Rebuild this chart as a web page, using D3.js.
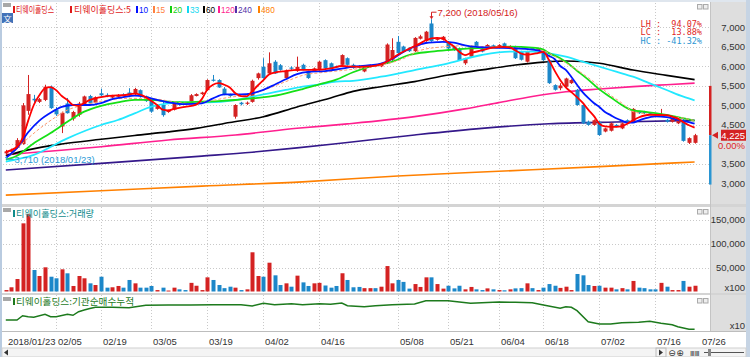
<!DOCTYPE html>
<html><head><meta charset="utf-8">
<script src="https://cdn.jsdelivr.net/npm/d3@7"></script>
<style>body{margin:0;background:#fff}svg{display:block}</style>
</head><body><svg id="c" width="750" height="357"></svg>
<script>
// ---------------- DATA ----------------
const openP  = [3760,3800,3900,4000,4850,5160,5080,5130,5470,4880,4450,5040,4650,4750,5000,5230,5060,5300,5260,5190,5210,5270,5320,5280,5380,5220,5130,4900,5000,4820,4880,5060,5060,5090,5230,5280,5380,5650,5640,5420,5260,4700,5060,5030,5080,5690,5980,5810,6110,6020,5690,5960,5870,6030,5860,5870,5900,6150,6070,5990,6030,6200,6030,5990,5860,5980,6020,5990,6070,6160,6620,6500,6450,6380,6700,6640,7090,6670,6670,6620,6500,6450,6070,6240,6620,6450,6480,6530,6520,6580,6480,6500,6370,6110,6460,6410,6370,6150,5510,5430,5470,5560,5390,5000,4570,4490,4570,4320,4340,4490,4400,4610,4580,4830,4830,4790,4760,4720,4620,4570,4530,4620,4030,4030];
const highP  = [3850,3880,4150,5050,5770,5260,5180,5520,5500,4950,4830,5180,4850,5080,5240,5260,5220,5420,5300,5260,5280,5300,5430,5440,5400,5240,5150,5020,5080,4880,5060,5090,5080,5280,5300,5340,5660,5770,5660,5460,5290,5020,5080,5090,5650,5830,6200,6350,6150,6050,5910,5990,6240,6060,5880,5960,6130,6170,6090,6010,6300,6220,6060,6020,6000,6040,6040,6080,6580,6710,6770,6520,6480,6740,6800,6900,7200,6730,6770,6640,6520,6470,6210,6520,6640,6470,6560,6550,6560,6600,6530,6520,6390,6390,6480,6470,6390,6170,5530,5560,5700,5660,5410,5020,4600,4630,4590,4420,4550,4510,4550,4630,4920,4850,4850,4810,4790,4900,4640,4670,4640,4650,4170,4260];
const lowP   = [3710,3770,3880,3980,4750,5060,5050,5100,4900,4720,4280,4780,4600,4700,4980,5000,5040,5230,5200,5170,5180,5220,5200,5250,5190,5080,4800,4880,4700,4800,4860,4980,5000,5080,5220,5260,5360,5600,5440,5250,5200,4650,4990,5000,5060,5650,5680,5790,5800,5880,5670,5900,5850,5890,5670,5850,5880,5920,5920,5950,6000,6010,5930,5940,5840,5960,5970,5970,6050,6130,6300,6350,6360,6360,6680,6620,6620,6650,6650,6430,6390,6130,6030,6220,6480,6350,6460,6470,6500,6480,6460,6180,6140,6090,6420,6390,6130,5540,5370,5380,5450,5540,4980,4510,4470,4470,4210,4300,4320,4430,4380,4510,4560,4770,4770,4760,4720,4700,4550,4550,4510,4060,4000,4010];
const closeP = [3810,3840,4100,4990,5280,5120,5150,5470,4920,4760,4800,4790,4820,5040,5220,5040,5200,5250,5230,5230,5260,5240,5240,5410,5220,5100,4830,4980,4740,4850,5040,5010,5040,5250,5280,5320,5640,5620,5450,5260,5230,5000,5020,5060,5620,5810,5690,6070,5810,5900,5890,5930,5980,5900,5690,5940,6110,5940,5940,5960,6280,6030,5950,5960,5980,6020,5990,6070,6550,6410,6330,6370,6380,6720,6760,6880,6640,6710,6750,6450,6410,6150,6200,6500,6500,6370,6540,6490,6540,6500,6510,6200,6160,6370,6440,6450,6150,5560,5390,5500,5680,5640,5000,4530,4490,4610,4230,4400,4530,4450,4530,4530,4900,4790,4790,4780,4740,4770,4570,4650,4620,4080,4150,4225];
const volume = [3000,8800,26000,142000,161000,44800,32300,50400,30800,27500,46200,37900,11500,32300,27500,17000,13500,30800,8000,8800,11500,8000,24000,17000,8000,8000,11500,3000,8000,2000,8000,4500,3000,18000,12000,3000,29500,24000,13500,7000,10000,8000,3000,4500,81700,32300,30800,60000,33700,13500,17000,10000,33000,19000,11500,17000,18000,12500,8000,11500,38000,24000,8800,9500,7000,7000,7000,10000,53000,17000,24000,20000,6000,15500,9500,29500,29500,15500,6000,12000,6500,12000,4500,9500,4500,3000,6500,4500,3000,2500,4500,6500,7000,17000,7000,3000,8000,15500,12000,7500,10000,3000,36500,33700,13500,11500,12000,8000,8000,4500,7000,4500,22000,8000,7000,4500,4500,18000,10000,3000,3000,22000,10000,12000];

// moving averages: [day index, price]
const ma5 = [[0,3800],[2,3930],[3,4150],[4,4600],[5,5000],[6,5250],[7,5430],[8,5460],[9,5380],[10,5230],[11,5130],[12,5000],[13,4980],[14,5050],[15,5130],[16,5170],[17,5200],[19,5240],[21,5250],[23,5290],[25,5200],[26,5100],[27,5000],[28,4880],[29,4860],[30,4900],[32,4950],[34,5010],[35,5150],[36,5400],[37,5520],[38,5560],[39,5520],[40,5450],[41,5300],[42,5230],[43,5220],[44,5350],[45,5500],[46,5640],[47,5780],[48,5830],[50,5870],[52,5900],[55,5900],[58,5940],[60,6000],[61,5990],[63,5980],[65,5990],[67,6040],[68,6110],[70,6290],[72,6440],[74,6580],[75,6660],[77,6720],[78,6710],[79,6600],[80,6500],[81,6360],[82,6280],[83,6330],[85,6400],[87,6470],[89,6490],[90,6480],[91,6400],[92,6320],[93,6290],[95,6330],[96,6360],[97,6150],[98,5880],[99,5640],[100,5450],[101,5330],[102,5200],[103,5060],[104,4880],[105,4720],[106,4520],[107,4450],[108,4440],[109,4440],[110,4460],[111,4520],[112,4610],[113,4680],[115,4750],[118,4740],[119,4700],[120,4650],[121,4560],[122,4480],[123,4420]];
const ma10 = [[0,3640],[2,3900],[4,4300],[6,4600],[8,4800],[10,4950],[12,5000],[15,5000],[17,5050],[19,5150],[21,5200],[23,5240],[25,5210],[27,5130],[29,5070],[32,5020],[35,5040],[37,5170],[39,5270],[42,5270],[44,5300],[46,5390],[48,5520],[50,5660],[52,5790],[54,5850],[57,5870],[59,5910],[61,5960],[65,6020],[67,6060],[69,6180],[71,6360],[73,6500],[75,6590],[77,6610],[78,6620],[80,6600],[82,6530],[84,6490],[87,6470],[91,6450],[95,6400],[96,6340],[97,6260],[98,6180],[99,6000],[100,5900],[101,5720],[102,5520],[103,5330],[104,5180],[105,5050],[106,4950],[107,4820],[108,4740],[109,4660],[110,4600],[111,4550],[112,4550],[113,4600],[114,4650],[116,4710],[118,4690],[120,4620],[122,4560],[123,4520]];
const ma15 = [[1,3720],[4,4150],[7,4500],[9,4700],[11,4870],[14,5000],[18,5120],[21,5170],[24,5170],[27,5150],[30,5080],[33,5040],[37,5120],[40,5200],[43,5250],[46,5380],[50,5600],[53,5760],[57,5840],[61,5900],[67,6020],[71,6190],[74,6400],[78,6490],[82,6520],[85,6500],[89,6490],[92,6450],[96,6390],[98,6250],[100,6080],[102,5900],[104,5700],[106,5480],[108,5250],[110,5050],[111,4930],[112,4830],[114,4780],[116,4740],[119,4700],[121,4660],[123,4600]];
const ma20 = [[0,3600],[2,3700],[5,4020],[8,4280],[11,4570],[14,4830],[17,4980],[20,5070],[23,5130],[26,5130],[29,5085],[32,5068],[35,5085],[38,5100],[41,5128],[44,5171],[47,5213],[50,5300],[53,5410],[56,5530],[59,5650],[62,5840],[65,5983],[69,6111],[72,6282],[76,6368],[79,6410],[83,6453],[87,6479],[90,6496],[94,6470],[96,6420],[97,6330],[99,6200],[100,6110],[102,5880],[104,5650],[106,5400],[108,5200],[110,5000],[112,4860],[114,4830],[116,4790],[118,4744],[120,4690],[122,4630],[123,4600]];
const ma33 = [[0,3550],[5,3720],[11,4146],[17,4487],[20,4615],[23,4786],[26,4957],[29,5043],[32,5068],[36,5068],[41,5128],[44,5213],[47,5299],[50,5385],[53,5470],[56,5530],[59,5598],[62,5620],[67,5726],[73,5897],[79,6069],[85,6282],[90,6368],[94,6367],[97,6325],[100,6239],[103,6111],[106,5982],[109,5854],[112,5726],[115,5556],[118,5385],[121,5213],[123,5120]];
const ma60 = [[0,3700],[4,3850],[10,4000],[17,4120],[23,4220],[29,4310],[34,4400],[40,4550],[46,4700],[52,4950],[58,5180],[62,5350],[67,5470],[73,5600],[79,5770],[85,5900],[91,6026],[96,6100],[100,6130],[106,6069],[112,5897],[118,5760],[123,5650]];
const ma120 = [[0,3730],[17,3931],[29,4103],[41,4231],[52,4402],[61,4515],[73,4701],[82,4900],[88,5060],[94,5220],[100,5340],[106,5410],[112,5470],[118,5520],[123,5560]];
const ma240 = [[0,3333],[17,3504],[35,3690],[44,3790],[52,3900],[61,4040],[73,4231],[85,4400],[97,4520],[109,4565],[123,4605]];
const ma480 = [[0,2690],[17,2800],[35,2920],[53,3030],[70,3180],[88,3300],[106,3420],[123,3540]];

// institutional cumulative net buying: [day index, value]
const instCum = [[0,0],[2,0],[3,4.3],[4,3.3],[5,2.7],[7,5.7],[8,3.3],[9,3.3],[11,5.7],[12,4.7],[13,8.3],[14,10],[15,11.5],[16,12.7],[19,12.7],[22,12.3],[25,14.7],[29,15],[33,15],[37,15.3],[42,15.3],[44,14],[46,16.7],[48,15.3],[51,16.3],[53,15.3],[56,16.3],[58,15.7],[60,17],[61,14.3],[64,13.3],[66,14.3],[69,15.3],[73,16],[75,19.3],[79,19.3],[81,18],[83,16.7],[88,18],[91,17.7],[94,17.3],[96,15],[99,11.7],[100,13.3],[101,12.7],[102,9.3],[104,-1.7],[106,-4],[108,-4],[110,-2.7],[113,-2.3],[115,-1.3],[117,-3.3],[119,-4.7],[120,-6.7],[122,-9.3],[123,-9.3]];

const dateTickIdx = [0,9,17,26,36,46,56,70,79,88,96,106,116,124];
const dateTickLbl = ["2018/01/23","02/05","02/19","03/05","03/19","04/02","04/16","05/08","05/21","06/04","06/18","07/02","07/16","07/26"];
const priceTicks = [3000,3500,4500,5000,5500,6000,6500,7000];
const priceGrid = [3000,3500,4000,4500,5000,5500,6000,6500,7000];
const volTicks = [50000,100000,150000];
const volTickLbl = ["50,000","100,000","150,000"];
const maNames = ["10","15","20","33","60","120","240","480"];
const stockName = "티웨이홀딩스";
const lastPrice = 4225, changePct = "0.00%";
const upperLimit = 5490, lowerLimit = 2960;
const stats = ["LH :  94.07%","LC :  13.88%","HC : -41.32%"];
const highDate = "2018/05/16", lowDate = "2018/01/23";

// ---------------- LAYOUT ----------------
const UP="#d42222", DN="#1c87c9";
const KR = "'Noto Sans CJK KR', sans-serif";
const NUM = "'Liberation Sans', Arial, sans-serif";
const svg = d3.select("#c");
const defs = svg.append("defs");
function clip(id,x,y,w,h){defs.append("clipPath").attr("id",id).append("rect").attr("x",x).attr("y",y).attr("width",w).attr("height",h);}
clip("cp",2,3,708,201); clip("cv",2,207,708,86); clip("ci",2,295,708,36);

const x = d3.scaleLinear().domain([0,124]).range([5.8,5.8+124*5.6]);
const yP = d3.scaleLinear().domain([3000,7000]).range([183,27]);
const yV = d3.scaleLinear().domain([0,150000]).range([291.5,219.5]);
const yI = d3.scaleLinear().domain([-11,24]).range([331,296]);

// frame / backgrounds
svg.append("rect").attr("width",750).attr("height",357).attr("fill","#fff");
svg.append("rect").attr("x",711).attr("y",2).attr("width",35).attr("height",330).attr("fill","#dedede");
svg.append("rect").attr("x",0).attr("y",0).attr("width",750).attr("height",2).attr("fill","#dfe6ee");
svg.append("rect").attr("x",0).attr("y",0).attr("width",2).attr("height",357).attr("fill","#b9cbe0");
svg.append("rect").attr("x",746).attr("y",0).attr("width",4).attr("height",357).attr("fill","#c6d4e4");
// separators
[[204,3],[293,2]].forEach(([y,h])=>svg.append("rect").attr("x",2).attr("y",y).attr("width",744).attr("height",h).attr("fill","#d4d4d4"));
svg.append("line").attr("x1",2).attr("x2",746).attr("y1",331.5).attr("y2",331.5).attr("stroke","#bdbdbd");
svg.append("line").attr("x1",710.5).attr("x2",710.5).attr("y1",2).attr("y2",331).attr("stroke","#c4c4c4");

// grid
const grid = svg.append("g").attr("stroke","#c9c9c9").attr("stroke-dasharray","1,2").attr("stroke-width",1);
priceGrid.forEach(v=>grid.append("line").attr("x1",3).attr("x2",710).attr("y1",Math.round(yP(v))+0.5).attr("y2",Math.round(yP(v))+0.5));
volTicks.forEach(v=>grid.append("line").attr("x1",3).attr("x2",710).attr("y1",Math.round(yV(v))+0.5).attr("y2",Math.round(yV(v))+0.5));
dateTickIdx.slice(1,-1).forEach(i=>{
  const xx=Math.round(x(i))+0.5;
  [[3,204],[207,293],[295,331]].forEach(([a,b])=>grid.append("line").attr("x1",xx).attr("x2",xx).attr("y1",a).attr("y2",b));
});

// ---------------- PRICE PANEL ----------------
const gP = svg.append("g").attr("clip-path","url(#cp)");
const maDefs = [[ma480,"#ff8000",1.6,null],[ma240,"#34188a",1.6,null],[ma120,"#ff1f8f",1.6,null],[ma60,"#000000",1.6,null],[ma33,"#22e8ff",1.8,null],[ma20,"#16e016",1.8,null],[ma15,"#ff9a70",1,"3,2"],[ma10,"#0018ff",1.8,null],[ma5,"#ff0000",1.8,null]];
const line = d3.line().x(d=>x(d[0])).y(d=>yP(d[1])).curve(d3.curveMonotoneX);
// draw long MAs first, candles, then short MAs on top
const n = closeP.length;
function drawMA(def){ gP.append("path").attr("d",line(def[0])).attr("fill","none").attr("stroke",def[1]).attr("stroke-width",def[2]).attr("stroke-dasharray",def[3]).attr("stroke-linejoin","round"); }
maDefs.slice(0,4).forEach(drawMA);
const cg = gP.append("g");
for(let i=0;i<n;i++){
  const up = closeP[i]>=openP[i], col = up?UP:DN, cx = Math.round(x(i));
  cg.append("line").attr("x1",cx+0.5).attr("x2",cx+0.5).attr("y1",yP(highP[i])).attr("y2",yP(lowP[i])).attr("stroke",col);
  const y1=yP(Math.max(openP[i],closeP[i])), y2=yP(Math.min(openP[i],closeP[i]));
  cg.append("rect").attr("x",cx-1.5).attr("y",y1).attr("width",4).attr("height",Math.max(1,y2-y1)).attr("fill",col);
}
maDefs.slice(4).forEach(drawMA);

// high / low annotations
const hi = d3.maxIndex(highP), lo = d3.minIndex(lowP);
const hx = Math.round(x(hi))+0.5, hy = yP(highP[hi]);
svg.append("path").attr("d",`M${hx+5},${hy-7}H${hx}V${hy-1}`).attr("fill","none").attr("stroke","#d42222");
svg.append("path").attr("d",`M${hx-2},${hy-3}L${hx+2},${hy-3}L${hx},${hy}Z`).attr("fill","#d42222");
svg.append("text").attr("x",hx+6).attr("y",hy-3.5).attr("font-family",NUM).attr("font-size",9.5).attr("fill","#d42222").text(d3.format(",")(highP[hi])+" ("+highDate+")");
const lx = Math.round(x(lo))+0.5, ly = yP(lowP[lo]);
svg.append("path").attr("d",`M${lx},${ly+1}V${ly+4}H${lx+7}`).attr("fill","none").attr("stroke","#2a9ad6");
svg.append("text").attr("x",lx+8).attr("y",ly+8).attr("font-family",NUM).attr("font-size",9.5).attr("fill","#2a9ad6").text(d3.format(",")(lowP[lo])+" ("+lowDate+")");

// stats
stats.forEach((s,k)=>svg.append("text").attr("x",702).attr("y",26.5+k*8.6).attr("text-anchor","end").attr("font-family","'DejaVu Sans Mono', monospace").attr("font-size",8.5).attr("fill",k<2?"#e02626":"#2a95d2").attr("xml:space","preserve").text(s));

// right axis (price)
priceTicks.forEach(v=>svg.append("text").attr("x",745).attr("y",yP(v)+3.5).attr("text-anchor","end").attr("font-family",NUM).attr("font-size",9.5).attr("fill","#333").text(d3.format(",")(v)));
// limit bar + current price
svg.append("rect").attr("x",709).attr("y",yP(upperLimit)).attr("width",2.5).attr("height",yP(lastPrice)-yP(upperLimit)).attr("fill","#d42222");
svg.append("rect").attr("x",709).attr("y",yP(lastPrice)).attr("width",2.5).attr("height",yP(lowerLimit)-yP(lastPrice)).attr("fill","#2a95d2");
const ly0 = yP(lastPrice);
svg.append("path").attr("d",`M712,${ly0}L718,${ly0-3.5}L718,${ly0+3.5}Z`).attr("fill","#d42222");
svg.append("rect").attr("x",721).attr("y",ly0-5.5).attr("width",25).attr("height",11).attr("fill","#d42222");
svg.append("text").attr("x",745).attr("y",ly0+3.5).attr("text-anchor","end").attr("font-family",NUM).attr("font-size",9.5).attr("fill","#fff").text(d3.format(",")(lastPrice));
svg.append("text").attr("x",745).attr("y",ly0+13.5).attr("text-anchor","end").attr("font-family",NUM).attr("font-size",9.5).attr("fill","#e02626").text(changePct);

// ---------------- VOLUME PANEL ----------------
const gV = svg.append("g").attr("clip-path","url(#cv)");
for(let i=0;i<volume.length;i++){
  const up = closeP[i]>=openP[i], cx = Math.round(x(i));
  gV.append("rect").attr("x",cx-1.5).attr("y",yV(volume[i])).attr("width",4).attr("height",yV(0)-yV(volume[i])).attr("fill",up?UP:DN);
}
volTicks.forEach((v,k)=>svg.append("text").attr("x",745).attr("y",yV(v)+3.5).attr("text-anchor","end").attr("font-family",NUM).attr("font-size",9.5).attr("fill","#333").text(volTickLbl[k]));
svg.append("text").attr("x",745).attr("y",290.5).attr("text-anchor","end").attr("font-family",NUM).attr("font-size",9.5).attr("fill","#333").text("x100");

// ---------------- INSTITUTIONAL PANEL ----------------
const gI = svg.append("g").attr("clip-path","url(#ci)");
gI.append("path").attr("d",d3.line().x(d=>x(d[0])).y(d=>yI(d[1]))(instCum)).attr("fill","none").attr("stroke","#1d7a1d").attr("stroke-width",1.5);
svg.append("text").attr("x",745).attr("y",328.5).attr("text-anchor","end").attr("font-family",NUM).attr("font-size",9.5).attr("fill","#333").text("x10");

// ---------------- DATE AXIS ----------------
dateTickIdx.forEach((i,k)=>svg.append("text").attr("x",(k===0?8:Math.round(x(i))+2)).attr("y",344.5).attr("font-family",NUM).attr("font-size",9.5).attr("fill","#333").text(dateTickLbl[k]));
// scrollbar
svg.append("rect").attr("x",2).attr("y",348).attr("width",744).attr("height",9).attr("fill","#f4f4f4").attr("stroke","#d0d0d0");
svg.append("path").attr("d","M4,352.5L8,349.5L8,355.5Z").attr("fill","#333");
svg.append("path").attr("d","M663,352.5L659,349.5L659,355.5Z").attr("fill","#333");
svg.append("rect").attr("x",656).attr("y",348).attr("width",10).attr("height",9).attr("fill","none").attr("stroke","#bbb");
["⊖","⊕"].forEach((s,k)=>svg.append("text").attr("x",672+k*8).attr("y",356).attr("text-anchor","middle").attr("font-family","'DejaVu Sans'").attr("font-size",9).attr("fill","#333").text(s));
svg.append("text").attr("x",690).attr("y",356).attr("font-family","'DejaVu Sans'").attr("font-size",7).attr("fill","#333").text("ⅢⅢ");
svg.append("line").attr("x1",704).attr("x2",744).attr("y1",352.5).attr("y2",352.5).attr("stroke","#555");
svg.append("rect").attr("x",708).attr("y",349).attr("width",3).attr("height",7).attr("fill","#888");

// ---------------- LEGENDS / TITLES ----------------
function icon(y){ svg.append("rect").attr("x",3).attr("y",y).attr("width",8).attr("height",4).attr("fill","#a8a8a8"); }
function buttons(y){ [697,703].forEach(bx=>svg.append("rect").attr("x",bx+0.5).attr("y",y+0.5).attr("width",4.5).attr("height",4.5).attr("fill","#eee").attr("stroke","#aaa")); }
icon(3); icon(208); icon(297);
buttons(4); buttons(209); buttons(298);
svg.append("rect").attr("x",2).attr("y",13).attr("width",11).attr("height",10).attr("fill","#4272b8");
svg.append("text").attr("x",7.5).attr("y",21.5).attr("text-anchor","middle").attr("font-family",KR).attr("font-size",8.5).attr("fill","#fff").text("文");

const legCol = ["#0010ff","#ff8040","#10d010","#10d8f0","#000000","#ff1f8f","#5030a8","#ff8000"];
const legItems = [{t:stockName,c:"#e01818",mx:13,tx:16,w:38},{t:stockName+":5",c:"#e01818",mx:70,tx:74,w:57}]
  .concat(maNames.map((m,k)=>({t:m,c:legCol[k],mx:[136,153,170,187,203,218,235,258][k],tx:[139,156,173,190,206,221,238,261][k],w:m.length*4.6})));
legItems.forEach(d=>{
  svg.append("rect").attr("x",d.mx).attr("y",6).attr("width",2).attr("height",7).attr("fill",d.c);
  svg.append("text").attr("x",d.tx).attr("y",13).attr("font-family",/[가-힣]/.test(d.t)?KR:NUM).attr("font-size",9.5).attr("fill",d.c)
    .attr("textLength",d.w).attr("lengthAdjust","spacingAndGlyphs").text(d.t);
});
function panelTitle(y,txt,col,w){
  svg.append("rect").attr("x",13).attr("y",y-7).attr("width",2).attr("height",7).attr("fill",col);
  svg.append("text").attr("x",16).attr("y",y).attr("font-family",KR).attr("font-size",9.5).attr("fill",col).attr("textLength",w).attr("lengthAdjust","spacingAndGlyphs").text(txt);
}
panelTitle(217,stockName+":거래량","#108c8c",78);
panelTitle(305,stockName+":기관순매수누적","#1d7a1d",118);
</script></body></html>
